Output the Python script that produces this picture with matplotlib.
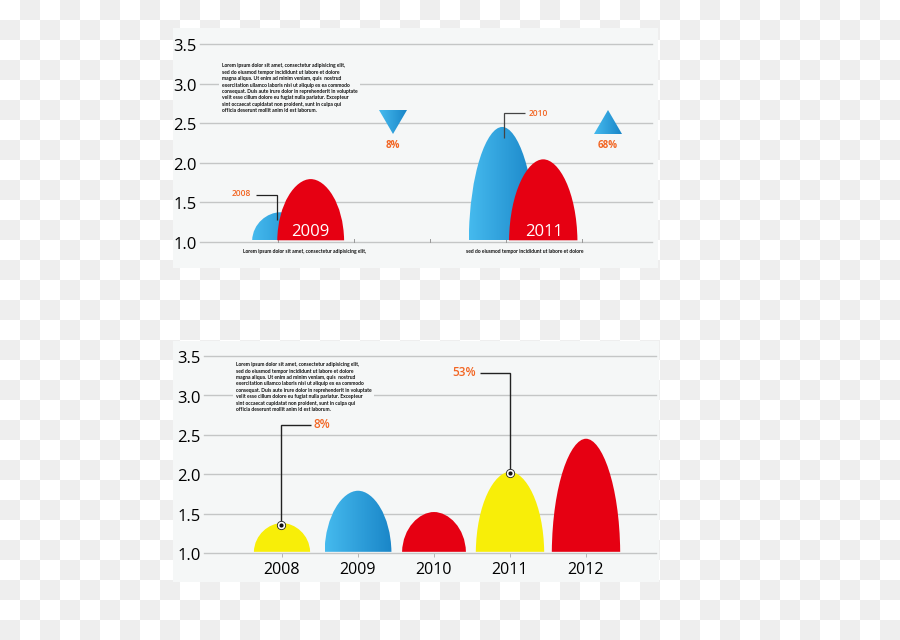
import numpy as np
import matplotlib
matplotlib.use('Agg')
import matplotlib.pyplot as plt
from matplotlib.path import Path
from matplotlib.patches import PathPatch, Polygon, Rectangle
from matplotlib.transforms import ScaledTranslation

plt.rcParams['font.family'] = ['Open Sans', 'DejaVu Sans']

# top chart
top_labels = ['2008', '2009', '2010', '2011']
top_x = [0.03, 0.43, 2.95, 3.49]
top_values = [1.37, 1.79, 2.45, 2.04]
top_kinds = ['blue', 'red', 'blue', 'red']

# bottom chart
bottom_labels = ['2008', '2009', '2010', '2011', '2012']
bottom_values = [1.38, 1.79, 1.52, 2.03, 2.45]
bottom_kinds = ['yellow', 'blue', 'red', 'yellow', 'red']

y_ticks = [1.0, 1.5, 2.0, 2.5, 3.0, 3.5]

lorem = ("Lorem ipsum dolor sit amet, consectetur adipisicing elit,\n"
         "sed do eiusmod tempor incididunt ut labore et dolore\n"
         "magna aliqua. Ut enim ad minim veniam, quis  nostrud\n"
         "exercitation ullamco laboris nisi ut aliquip ex ea commodo\n"
         "consequat. Duis aute irure dolor in reprehenderit in voluptate\n"
         "velit esse cillum dolore eu fugiat nulla pariatur. Excepteur\n"
         "sint occaecat cupidatat non proident, sunt in culpa qui\n"
         "officia deserunt mollit anim id est laborum.")

W, H = 900, 640
PANEL = '#f5f7f7'
GRID = '#c4c6c6'
ORANGE = '#f26522'
RED = '#e60012'
YELLOW = '#f8ee08'
BLUES = ['#45baee', '#1a86c8']
DOME_BASE = 1.015
TICK_PX = 76.0
SMALL = dict(family=['Lato', 'DejaVu Sans'], fontsize=3.65, fontweight='bold', color='#111111')


def hex_rgb(c):
    return np.array(matplotlib.colors.to_rgb(c))


def px_axes(fig, x0, y0, x1, y1):
    # rectangle given in picture pixels, y going down
    return fig.add_axes([x0 / W, 1 - y1 / H, (x1 - x0) / W, (y1 - y0) / H])


def blue_fill(ax, x0, x1, y0, y1, clip):
    a, b = hex_rgb(BLUES[0]), hex_rgb(BLUES[1])
    t = np.linspace(0, 1, 64)[None, :, None]
    im = ax.imshow(a + (b - a) * t, extent=[x0, x1, y0, y1], aspect='auto',
                   interpolation='bilinear', zorder=clip.get_zorder())
    im.set_clip_path(clip)


def dome(ax, x, peak, half, kind, z):
    verts = [(x - half, DOME_BASE),
             (x - half * 0.98, DOME_BASE + (peak - DOME_BASE) * 0.6),
             (x - half * 0.46, peak),
             (x, peak),
             (x + half * 0.46, peak),
             (x + half * 0.98, DOME_BASE + (peak - DOME_BASE) * 0.6),
             (x + half, DOME_BASE),
             (x - half, DOME_BASE)]
    codes = [Path.MOVETO] + [Path.CURVE4] * 6 + [Path.CLOSEPOLY]
    color = {'red': RED, 'yellow': YELLOW}.get(kind, 'none')
    patch = PathPatch(Path(verts, codes), facecolor=color, edgecolor='none', zorder=z)
    ax.add_patch(patch)
    if kind == 'blue':
        blue_fill(ax, x - half, x + half, DOME_BASE, peak, patch)


def setup_axes(ax, xlim):
    ax.set_xlim(*xlim)
    ax.set_ylim(1.0, 3.5)
    ax.patch.set_alpha(0)
    for s in ax.spines.values():
        s.set_visible(False)
    ax.set_yticks(y_ticks)
    ax.set_yticklabels(['%.1f' % v for v in y_ticks], fontsize=12, color='#000000')
    ax.tick_params(axis='y', length=0, pad=2.3)
    ax.grid(axis='y', color=GRID, lw=1.0, zorder=1)
    ax.set_axisbelow(True)
    for g in ax.get_ygridlines():
        g.set_clip_on(False)
    # labels sit a little under their lines
    shift = ScaledTranslation(0, -1.2 / 100, ax.figure.dpi_scale_trans)
    for lab in ax.get_yticklabels():
        lab.set_transform(lab.get_transform() + shift)


def triangle(ov, x, y, w, h, up):
    if up:
        pts = [(x - w / 2, y + h), (x + w / 2, y + h), (x, y)]
    else:
        pts = [(x - w / 2, y), (x + w / 2, y), (x, y + h)]
    clip = Polygon(pts, closed=True, facecolor='none', edgecolor='none')
    ov.add_patch(clip)
    a, b = hex_rgb(BLUES[0]), hex_rgb(BLUES[1])
    t = np.linspace(0, 1, 32)[None, :, None]
    im = ov.imshow(a + (b - a) * t, extent=[x - w / 2, x + w / 2, y + h, y],
                   aspect='auto', interpolation='bilinear')
    im.set_clip_path(clip)


def leader(ov, xs, ys, lw, color='#222222'):
    ov.plot(xs, ys, color=color, lw=lw, solid_joinstyle='miter', solid_capstyle='butt')


def marker(ov, x, y):
    ov.plot([x], [y], 'o', ms=6, mfc='white', mec='#222222', mew=0.6)
    ov.plot([x], [y], 'o', ms=3, mfc='#111111', mec='none')


fig = plt.figure(figsize=(W / 100, H / 100), dpi=100, facecolor='white')

# checkered backdrop
bg = fig.add_axes([0, 0, 1, 1], zorder=-5)
cells = (np.indices((H // 20, W // 20)).sum(axis=0) % 2)
bg.imshow(cells, cmap=matplotlib.colors.ListedColormap(['#ffffff', '#eeeeee']),
          interpolation='nearest', aspect='auto', extent=[0, W, H, 0])
bg.axis('off')
bg.add_patch(Rectangle((173, 28), 485, 240, facecolor=PANEL, edgecolor='none'))
bg.add_patch(Rectangle((173, 341), 486, 241, facecolor=PANEL, edgecolor='none'))

# --- top chart ---
ax1 = px_axes(fig, 200, 44, 652, 241.5)
# one x unit is one tick step, 2008 tick at 278 px
setup_axes(ax1, ((200 - 278) / TICK_PX, (652 - 278) / TICK_PX))
ax1.set_xticks([])
top_half = [0.37, 0.44, 0.44, 0.45]
for i in range(len(top_values)):
    dome(ax1, top_x[i], top_values[i], top_half[i], top_kinds[i], 3 + i)
for i in range(5):
    ax1.plot([i, i], [1.0, 1.03], color='#999999', lw=0.7, zorder=2, clip_on=False)
ax1.text(top_x[1], 1.12, top_labels[1], color='white', fontsize=12, fontweight='medium',
         ha='center', va='center', zorder=9)
ax1.text(top_x[3] + 0.01, 1.12, top_labels[3], color='white', fontsize=12, fontweight='medium',
         ha='center', va='center', zorder=9)

# --- bottom chart ---
ax2 = px_axes(fig, 204, 356, 656, 553)
setup_axes(ax2, ((204 - 282) / TICK_PX, (656 - 282) / TICK_PX))
ax2.set_xticks(range(len(bottom_labels)))
ax2.set_xticklabels(bottom_labels, fontsize=11.5, color='#000000', fontweight='medium')
ax2.tick_params(axis='x', length=3, color='#aaaaaa', width=0.6, pad=3.5, direction='out')
bottom_half = [0.37, 0.44, 0.42, 0.45, 0.45]
for i in range(len(bottom_values)):
    dome(ax2, i, bottom_values[i], bottom_half[i], bottom_kinds[i], 3 + i)

# overlay in picture pixels for notes and pointers
ov = fig.add_axes([0, 0, 1, 1], zorder=30)
ov.set_xlim(0, W)
ov.set_ylim(H, 0)
ov.autoscale(False)
ov.axis('off')

box = dict(facecolor=PANEL, edgecolor='none', pad=2)
ov.text(222, 63.3, lorem, va='top', ha='left', linespacing=1.35, bbox=box, **SMALL)
ov.text(236, 362.3, lorem, va='top', ha='left', linespacing=1.35, bbox=box, **SMALL)
ov.text(305, 251, 'Lorem ipsum dolor sit amet, consectetur adipisicing elit,', ha='center', va='center', **SMALL)
ov.text(525, 251, 'sed do eiusmod tempor incididunt ut labore et dolore', ha='center', va='center', **SMALL)

triangle(ov, 393, 110, 28, 24, False)
triangle(ov, 608, 110, 28, 24, True)
ov.text(393, 145, '8%', color=ORANGE, fontsize=7, fontweight='bold', ha='center', va='center')
ov.text(608, 145, '68%', color=ORANGE, fontsize=7, fontweight='bold', ha='center', va='center')

ov.text(241, 193, top_labels[0], color=ORANGE, fontsize=6, fontweight='semibold', ha='center', va='center')
leader(ov, [256, 276.5, 276.5], [195, 195, 220], 0.9)
ov.text(538, 113.5, top_labels[2], color=ORANGE, fontsize=6, fontweight='semibold', ha='center', va='center')
leader(ov, [525, 504, 504], [113, 113, 138], 0.9, '#444444')

ov.text(322, 425, '8%', color=ORANGE, fontsize=8.5, fontweight='semibold', ha='center', va='center')
leader(ov, [311, 280.7, 280.7], [425, 425, 524], 1.0)
marker(ov, 280.7, 524.7)
ov.text(464, 372.5, '53%', color=ORANGE, fontsize=8.5, fontweight='semibold', ha='center', va='center')
leader(ov, [480, 510.3, 510.3], [373, 373, 472], 1.0)
marker(ov, 510.3, 472.7)

fig.savefig('out.png', dpi=100)
